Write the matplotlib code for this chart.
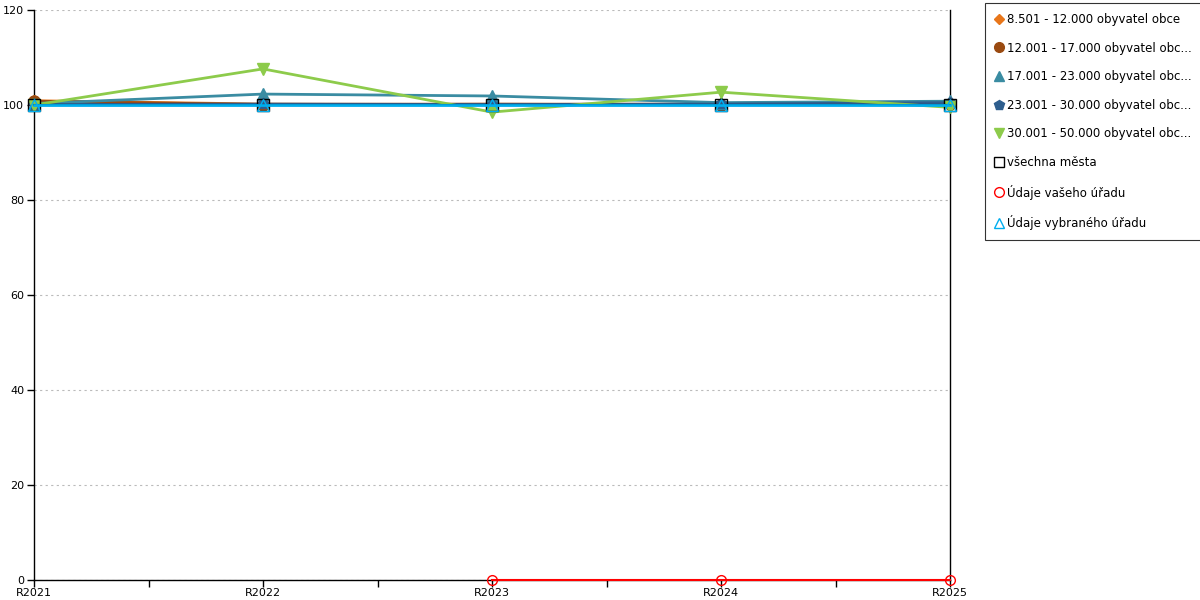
import matplotlib
matplotlib.use("Agg")
import matplotlib.pyplot as plt
import numpy as np
from matplotlib.ticker import MultipleLocator
from matplotlib.lines import Line2D

categories = ["R2021", "R2022", "R2023", "R2024", "R2025"]
s_8501 = [100.9, 100.2, 100.1, 100.2, 100.3]
s_12001 = [100.8, 100.1, 100.2, 100.1, 100.2]
s_17001 = [100.3, 102.3, 101.9, 100.5, 100.8]
s_23001 = [100.1, 100.2, 100.1, 100.2, 100.5]
s_30001 = [100.0, 107.6, 98.5, 102.7, 99.5]
s_all = [100.0, 100.0, 100.0, 100.0, 100.0]
s_vas = [np.nan, np.nan, 0.0, 0.0, 0.0]
s_vyb = [100.0, 100.0, 100.0, 100.0, 100.0]

labels = ["8.501 - 12.000 obyvatel obce",
          "12.001 - 17.000 obyvatel obc...",
          "17.001 - 23.000 obyvatel obc...",
          "23.001 - 30.000 obyvatel obc...",
          "30.001 - 50.000 obyvatel obc...",
          "všechna města",
          "Údaje vašeho úřadu",
          "Údaje vybraného úřadu"]

plt.rcParams['font.family'] = ['DejaVu Sans']
fig = plt.figure(figsize=(12, 6), dpi=100)
ax = fig.add_axes([34/1200, 20/600, (950-34)/1200, 570/600])
x = np.arange(len(categories))

kw = dict(clip_on=False)
ax.plot(x, s_8501, color="#E8761A", lw=2, marker="D", ms=6, zorder=3, **kw)
ax.plot(x, s_12001, color="#9A4A10", lw=2, marker="o", ms=8, zorder=3, **kw)
ax.plot(x, s_17001, color="#3A8CA2", lw=2, marker="^", ms=9, zorder=3, **kw)
ax.plot(x, s_23001, color="#2E5E8E", lw=2, marker="p", ms=8, zorder=3, **kw)
ax.plot(x, s_30001, color="#8DCB4B", lw=2, marker="v", ms=9, zorder=3, **kw)
ax.plot(x, s_all, color="black", lw=1.5, marker="s", ms=8, mfc="none", mec="black", zorder=3, **kw)
ax.plot(x, s_vyb, color="#00AEEF", lw=2, marker="^", ms=8, mfc="none", mec="#00AEEF", zorder=4, **kw)
ax.plot(x, s_vas, color="red", lw=1.5, marker="o", ms=7, mfc="none", mec="red", zorder=5, **kw)

ax.set_xlim(0, 4)
ax.set_ylim(0, 120)
ax.set_xticks(x)
ax.set_xticklabels(categories)
ax.xaxis.set_minor_locator(MultipleLocator(0.5))
ax.yaxis.set_major_locator(MultipleLocator(20))
ax.tick_params(axis='both', labelsize=8, length=5, color='black', width=1)
ax.tick_params(axis='x', which='minor', length=5, width=1)
ax.tick_params(axis='y', pad=2)
ax.tick_params(axis='x', pad=1)
ax.grid(axis='y', color='#BBBBBB', linestyle=(0, (2, 3)), lw=0.8)
ax.set_axisbelow(True)
ax.spines['top'].set_visible(False)
for s in ['left', 'right', 'bottom']:
    ax.spines[s].set_color('black')
    ax.spines[s].set_linewidth(1)
    ax.spines[s].set_zorder(2.5)

handles = [
    Line2D([], [], ls='none', marker='D', color='#E8761A', ms=5),
    Line2D([], [], ls='none', marker='o', color='#9A4A10', ms=7),
    Line2D([], [], ls='none', marker='^', color='#3A8CA2', ms=7),
    Line2D([], [], ls='none', marker='p', color='#2E5E8E', ms=7),
    Line2D([], [], ls='none', marker='v', color='#8DCB4B', ms=7),
    Line2D([], [], ls='none', marker='s', mfc='none', mec='black', ms=7),
    Line2D([], [], ls='none', marker='o', mfc='none', mec='red', ms=7),
    Line2D([], [], ls='none', marker='^', mfc='none', mec='#00AEEF', ms=7),
]
leg = fig.legend(handles, labels, loc='upper left', bbox_to_anchor=(985/1200, 1-3/600),
                 fontsize=8.5, frameon=True, fancybox=False, edgecolor='black',
                 handlelength=0.6, handletextpad=0.4, labelspacing=1.32,
                 borderpad=0.85, borderaxespad=0)
leg.get_frame().set_linewidth(0.8)

fig.savefig("out.png", dpi=100)
